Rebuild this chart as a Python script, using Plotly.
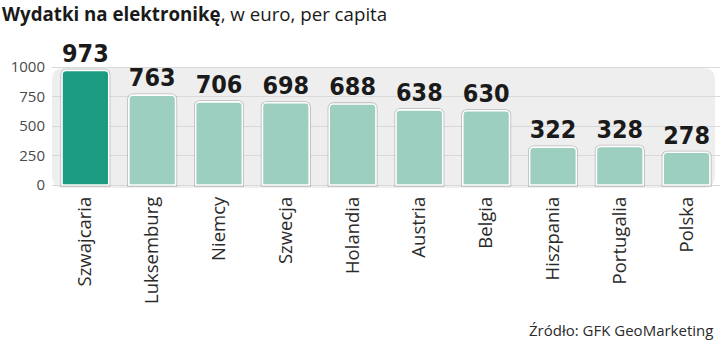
import plotly.graph_objects as go

# Electronics spending per capita, in euro
countries = ["Szwajcaria", "Luksemburg", "Niemcy", "Szwecja", "Holandia",
             "Austria", "Belgia", "Hiszpania", "Portugalia", "Polska"]
spending = [973, 763, 706, 698, 688, 638, 630, 322, 328, 278]
y_ticks = [0, 250, 500, 750, 1000]

highlight = "#1a9b82"
regular = "#9dcfc0"
colors = [highlight] + [regular] * (len(countries) - 1)

fig = go.Figure()
# soft grey halo under each bar
fig.add_trace(go.Bar(
    x=countries,
    y=spending,
    marker=dict(color=colors, line=dict(color="rgba(0,0,0,0.22)", width=3.2), cornerradius=4),
    hoverinfo="skip",
))
fig.add_trace(go.Bar(
    x=countries,
    y=spending,
    marker=dict(color=colors, line=dict(color="white", width=1.6), cornerradius=4),
    text=[str(v) for v in spending],
    textposition="outside",
    textfont=dict(family="DejaVu Sans Condensed, Roboto, Arial", size=26, color="#1a1a1a", weight="bold"),
    cliponaxis=False,
    hoverinfo="skip",
))

# rounded light panel behind the bars
rx, ry = 0.018, 0.1
x0, x1, y0, y1 = 0.0, 0.9925, 0.0, 0.984
panel = (f"M {x0+rx},{y0} L {x1-rx},{y0} Q {x1},{y0} {x1},{y0+ry} "
         f"L {x1},{y1-ry} Q {x1},{y1} {x1-rx},{y1} L {x0+rx},{y1} "
         f"Q {x0},{y1} {x0},{y1-ry} L {x0},{y0+ry} Q {x0},{y0} {x0+rx},{y0} Z")

fig.update_layout(
    width=720, height=341,
    margin=dict(l=52, r=0, t=66, b=153),
    paper_bgcolor="white",
    plot_bgcolor="rgba(0,0,0,0)",
    barmode="overlay",
    bargap=0.3,
    showlegend=False,
    shapes=[dict(type="path", path=panel, xref="paper", yref="paper",
                 fillcolor="#eeeeee", line=dict(width=0), layer="below")],
    xaxis=dict(
        tickangle=-90,
        tickfont=dict(family="Open Sans, Arial", size=18.5, color="#2a2a2a"),
        showgrid=False, showline=False, ticks="",
        range=[-0.5, len(countries) - 0.5],
        ticklabelstandoff=4,
    ),
    yaxis=dict(
        range=[-25, 1010],
        tickvals=y_ticks,
        ticktext=[str(v) for v in y_ticks],
        tickfont=dict(family="Open Sans, Arial", size=15, color="#4a4a4a"),
        showgrid=True, gridcolor="#d9d9d9", gridwidth=1,
        zeroline=False, showline=False, ticks="",
        ticklabelstandoff=6,
    ),
    annotations=[
        dict(text="<b>Wydatki na elektronikę</b>, w euro, per capita",
             xref="paper", yref="paper", x=-52/668, y=(188-13)/122,
             xanchor="left", yanchor="middle", showarrow=False,
             font=dict(family="Open Sans, Arial", size=18.7, color="#1a1a1a")),
        dict(text="Źródło: GFK GeoMarketing",
             xref="paper", yref="paper", x=(715-52)/668, y=(188-330)/122,
             xanchor="right", yanchor="middle", showarrow=False,
             font=dict(family="Open Sans, Arial", size=15, color="#2a2a2a")),
    ],
)

fig.write_html("out.html")
